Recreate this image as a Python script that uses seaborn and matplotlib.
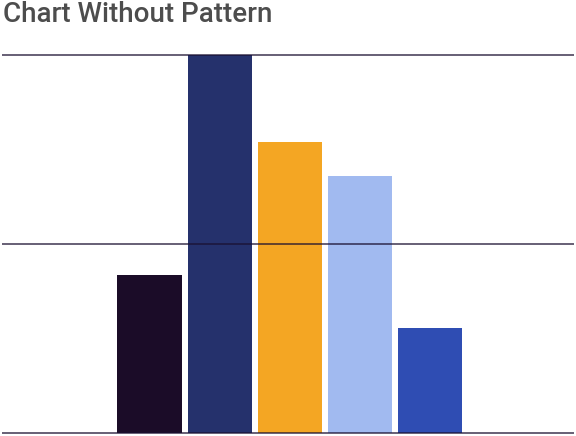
import matplotlib
matplotlib.use("Agg")
import matplotlib.pyplot as plt
import seaborn as sns
import pandas as pd

categories = ["Series 1", "Series 2", "Series 3", "Series 4", "Series 5"]
values = [42, 100, 77, 68, 28]
colors = ["#1b0c28", "#25316c", "#f4a623", "#a1baf0", "#2f4db3"]
grid_ticks = [0, 50, 100]

sns.set_theme(style="white")
plt.rcParams["font.family"] = ["Roboto", "DejaVu Sans"]

W, H, DPI = 576, 436, 100
fig = plt.figure(figsize=(W / DPI, H / DPI), dpi=DPI)
fig.patch.set_facecolor("white")

ppu = 3.778
ymin, ymax = -0.6, 102
bottom_px = 2.7 + ymin * ppu
height_px = (ymax - ymin) * ppu
ax = fig.add_axes([2 / W, bottom_px / H, 572 / W, height_px / H])

df = pd.DataFrame({"cat": categories, "val": values})
sns.barplot(data=df, x="cat", y="val", hue="cat", palette=colors,
            saturation=1, width=0.92, legend=False, ax=ax, linewidth=0)

ax.set_xlim((2 - 149.7) / 70, (574 - 149.7) / 70)
ax.set_ylim(ymin, ymax)
ax.set_yticks(grid_ticks)
ax.yaxis.grid(True, color="#1a1030", alpha=0.78, linewidth=1.2)
ax.xaxis.grid(False)
ax.set_axisbelow(False)
ax.tick_params(left=False, bottom=False, labelleft=False, labelbottom=False)
for s in ax.spines.values():
    s.set_visible(False)
ax.set_xlabel("")
ax.set_ylabel("")
ax.patch.set_alpha(0)

fig.text(3 / W, 1 - 21.8 / H, "Chart Without Pattern", fontsize=20,
         fontweight="medium", color="#4d4d4d", va="baseline", ha="left")

fig.savefig("out.png", dpi=DPI, facecolor="white")
